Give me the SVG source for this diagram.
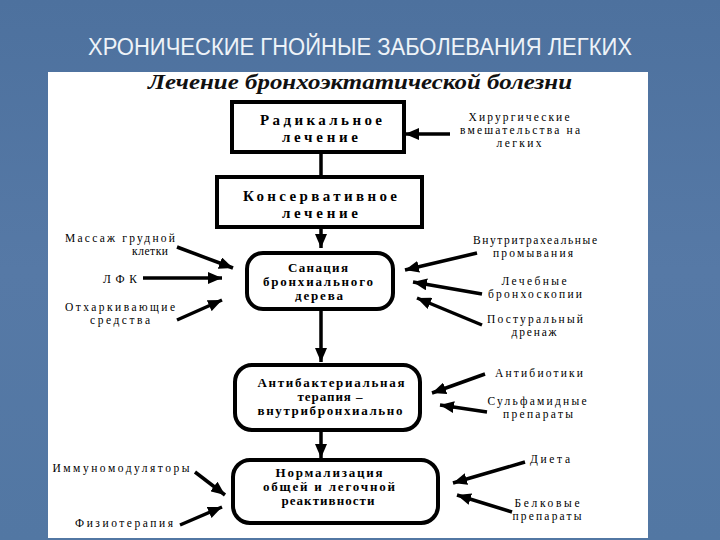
<svg xmlns="http://www.w3.org/2000/svg" width="720" height="540" viewBox="0 0 720 540">
<defs>
<linearGradient id="bg" x1="0" y1="0" x2="0" y2="1">
<stop offset="0" stop-color="#4d719e"/>
<stop offset="0.5" stop-color="#5679a6"/>
<stop offset="1" stop-color="#5277a3"/>
</linearGradient>
<marker id="ah" markerUnits="userSpaceOnUse" markerWidth="14" markerHeight="12" refX="14" refY="6" orient="auto">
<path d="M0,0 L14,6 L0,12 Z" fill="#000"/>
</marker>
<style>
.title{font-family:"Liberation Sans","DejaVu Sans",sans-serif;font-size:23px;fill:#eef3f8}
.sub{font-family:"Liberation Serif","DejaVu Serif",serif;font-style:italic;font-weight:bold;font-size:20px;fill:#111}
.bx{font-family:"Liberation Serif","DejaVu Serif",serif;font-weight:bold;font-size:13px;fill:#000;text-anchor:middle}
.bx2{font-family:"Liberation Serif","DejaVu Serif",serif;font-weight:bold;font-size:15px;fill:#000;text-anchor:middle}
.lb{font-family:"Liberation Serif","DejaVu Serif",serif;font-size:11.5px;fill:#000;text-anchor:middle}
.box{fill:#fff;stroke:#000;stroke-width:4}
.con line,.con path{stroke:#000;stroke-width:3.5;fill:none}
.ar{marker-end:url(#ah)}
</style>
</defs>
<rect x="0" y="0" width="720" height="540" fill="url(#bg)"/>
<text class="title" x="360" y="55" text-anchor="middle" textLength="544" lengthAdjust="spacingAndGlyphs">ХРОНИЧЕСКИЕ ГНОЙНЫЕ ЗАБОЛЕВАНИЯ ЛЕГКИХ</text>
<rect x="48" y="72" width="600" height="466" fill="#fff"/>
<text class="sub" x="148" y="89" textLength="424" lengthAdjust="spacingAndGlyphs">Лечение бронхоэктатической болезни</text>

<g id="radical">
<rect class="box" x="232" y="102" width="172" height="50"/>
<text class="bx2" x="321" y="125" textLength="122" lengthAdjust="spacing">Радикальное</text>
<text class="bx2" x="320" y="142" textLength="76" lengthAdjust="spacing">лечение</text>
</g>
<g id="conservative">
<rect class="box" x="217" y="177" width="205" height="50"/>
<text class="bx2" x="320" y="201" textLength="154" lengthAdjust="spacing">Консервативное</text>
<text class="bx2" x="320" y="218" textLength="76" lengthAdjust="spacing">лечение</text>
</g>
<g id="sanation">
<rect class="box" x="247" y="253" width="146" height="56" rx="16"/>
<text class="bx" x="318" y="272" textLength="60" lengthAdjust="spacing">Санация</text>
<text class="bx" x="318" y="286" textLength="110" lengthAdjust="spacing">бронхиального</text>
<text class="bx" x="319" y="300" textLength="48" lengthAdjust="spacing">дерева</text>
</g>
<g id="antibacterial">
<rect class="box" x="235" y="365" width="185" height="65" rx="17"/>
<text class="bx" x="331" y="387" textLength="147" lengthAdjust="spacing">Антибактериальная</text>
<text class="bx" x="330" y="401" textLength="65" lengthAdjust="spacing">терапия –</text>
<text class="bx" x="330" y="415" textLength="145" lengthAdjust="spacing">внутрибронхиально</text>
</g>
<g id="normalization">
<rect class="box" x="233" y="460" width="205" height="63" rx="17"/>
<text class="bx" x="329" y="477" textLength="107" lengthAdjust="spacing">Нормализация</text>
<text class="bx" x="329" y="491" textLength="132" lengthAdjust="spacing">общей и легочной</text>
<text class="bx" x="328" y="505" textLength="93" lengthAdjust="spacing">реактивности</text>
</g>

<g id="labels">
<text class="lb" x="519" y="121" textLength="101" lengthAdjust="spacing">Хирургические</text>
<text class="lb" x="520" y="134" textLength="120" lengthAdjust="spacing">вмешательства на</text>
<text class="lb" x="519" y="147" textLength="45" lengthAdjust="spacing">легких</text>
<text class="lb" x="120" y="242" textLength="110" lengthAdjust="spacing">Массаж грудной</text>
<text class="lb" x="150" y="255" textLength="36" lengthAdjust="spacing">клетки</text>
<text class="lb" x="120" y="283" textLength="34" lengthAdjust="spacing">ЛФК</text>
<text class="lb" x="120" y="311" textLength="110" lengthAdjust="spacing">Отхаркивающие</text>
<text class="lb" x="120" y="324" textLength="60" lengthAdjust="spacing">средства</text>
<text class="lb" x="535" y="244" textLength="124" lengthAdjust="spacing">Внутритрахеальные</text>
<text class="lb" x="533" y="257" textLength="80" lengthAdjust="spacing">промывания</text>
<text class="lb" x="534" y="285" textLength="65" lengthAdjust="spacing">Лечебные</text>
<text class="lb" x="535" y="298" textLength="94" lengthAdjust="spacing">бронхоскопии</text>
<text class="lb" x="535" y="323" textLength="96" lengthAdjust="spacing">Постуральный</text>
<text class="lb" x="534" y="336" textLength="45" lengthAdjust="spacing">дренаж</text>
<text class="lb" x="539" y="377" textLength="88" lengthAdjust="spacing">Антибиотики</text>
<text class="lb" x="537" y="405" textLength="99" lengthAdjust="spacing">Сульфамидные</text>
<text class="lb" x="538" y="418" textLength="70" lengthAdjust="spacing">препараты</text>
<text class="lb" x="550" y="463" textLength="40" lengthAdjust="spacing">Диета</text>
<text class="lb" x="547" y="507" textLength="65" lengthAdjust="spacing">Белковые</text>
<text class="lb" x="547" y="520" textLength="69" lengthAdjust="spacing">препараты</text>
<text class="lb" x="121" y="472" textLength="137" lengthAdjust="spacing">Иммуномодуляторы</text>
<text class="lb" x="124" y="527" textLength="98" lengthAdjust="spacing">Физиотерапия</text>
</g>

<g id="connectors" class="con">
<line x1="321" y1="152" x2="321" y2="177"/>
<line class="ar" x1="321" y1="227" x2="321" y2="248"/>
<line class="ar" x1="321" y1="309" x2="321" y2="362"/>
<line class="ar" x1="321" y1="430" x2="321" y2="458"/>
<line class="ar" x1="450" y1="134" x2="405" y2="134"/>
<line class="ar" x1="177" y1="247" x2="233" y2="268"/>
<line class="ar" x1="143" y1="278" x2="222" y2="278"/>
<line class="ar" x1="177" y1="320" x2="222" y2="300"/>
<line class="ar" x1="477" y1="253" x2="405" y2="270"/>
<line class="ar" x1="482" y1="294" x2="413" y2="282"/>
<line class="ar" x1="482" y1="325" x2="417" y2="298"/>
<line class="ar" x1="485" y1="374" x2="432" y2="393"/>
<line class="ar" x1="487" y1="412" x2="440" y2="405"/>
<line class="ar" x1="525" y1="462" x2="453" y2="483"/>
<line class="ar" x1="512" y1="512" x2="457" y2="495"/>
<line class="ar" x1="195" y1="472" x2="225" y2="495"/>
<line class="ar" x1="180" y1="525" x2="222" y2="507"/>
</g>
</svg>
